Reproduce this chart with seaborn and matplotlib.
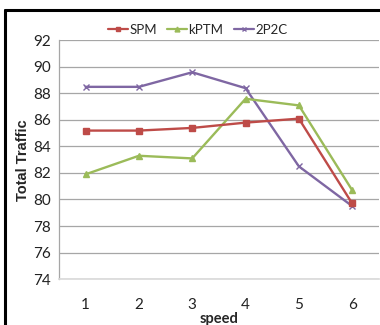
import matplotlib
matplotlib.use("Agg")
import matplotlib.pyplot as plt
import seaborn as sns
import pandas as pd
from matplotlib.lines import Line2D

speeds = [1, 2, 3, 4, 5, 6]
spm = [85.2, 85.2, 85.4, 85.8, 86.1, 79.7]
kptm = [81.9, 83.3, 83.1, 87.6, 87.1, 80.7]
p2c = [88.5, 88.5, 89.6, 88.4, 82.5, 79.5]
series_names = ["SPM", "kPTM", "2P2C"]
y_ticks = [74, 76, 78, 80, 82, 84, 86, 88, 90, 92]

data = {"SPM": spm, "kPTM": kptm, "2P2C": p2c}

sns.set_style("white")
plt.rcParams["font.family"] = ["Lato", "DejaVu Sans"]

colors = {"SPM": "#BE4B48", "kPTM": "#9BBB59", "2P2C": "#7F67A3"}
markers = {"SPM": "s", "kPTM": "^", "2P2C": "x"}

fig = plt.figure(figsize=(3.8, 3.25), dpi=100)
ax = fig.add_axes([0.155, 0.1415, 0.842, 0.734])

for n in ["2P2C", "kPTM", "SPM"]:
    df = pd.DataFrame({"speed": speeds, "value": data[n]})
    sns.lineplot(data=df, x="speed", y="value", color=colors[n], marker=markers[n],
                 linewidth=1.7, markersize=4.5, markeredgewidth=1.0,
                 markeredgecolor=colors[n], ax=ax, legend=False)

ax.set_xlim(0.5, 6.5)
ax.set_ylim(74, 92)
ax.set_yticks(y_ticks)
ax.set_xticks(speeds)
ax.yaxis.grid(True, color="#A6A6A6", linewidth=0.9)
ax.xaxis.grid(False)
for s in ["top", "right"]:
    ax.spines[s].set_visible(False)
ax.spines["left"].set_color("#A6A6A6")
ax.spines["bottom"].set_color("#D9D9D9")
ax.spines["left"].set_linewidth(0.9)
ax.spines["bottom"].set_linewidth(1.2)
ax.tick_params(axis="y", length=4, color="#A6A6A6", labelsize=11, labelcolor="#222222", pad=2)
ax.tick_params(axis="x", length=0, labelsize=11, labelcolor="#222222", pad=14)
ax.set_xlabel("speed", fontsize=10.5, fontweight="bold", labelpad=0)
ax.set_ylabel("Total Traffic", fontsize=10.5, fontweight="bold", labelpad=2,
              family=["Liberation Sans", "DejaVu Sans"])

handles = [Line2D([0], [0], color=colors[n], marker=markers[n], markersize=3.5,
                  linewidth=1.6, markeredgewidth=1.0) for n in series_names]
fig.legend(handles, series_names, loc="center", bbox_to_anchor=(0.52, 0.908),
           ncol=3, frameon=False, fontsize=9.5, handlelength=1.5,
           handletextpad=0.1, columnspacing=0.8)

# outer chart border (top and left visible)
fig.add_artist(Line2D([5 / 380, 5 / 380], [0, 1 - 10 / 325], transform=fig.transFigure,
                      color="black", linewidth=2.2))
fig.add_artist(Line2D([5 / 380, 1], [1 - 10 / 325, 1 - 10 / 325], transform=fig.transFigure,
                      color="black", linewidth=2.2))

fig.savefig("out.png", dpi=100)
